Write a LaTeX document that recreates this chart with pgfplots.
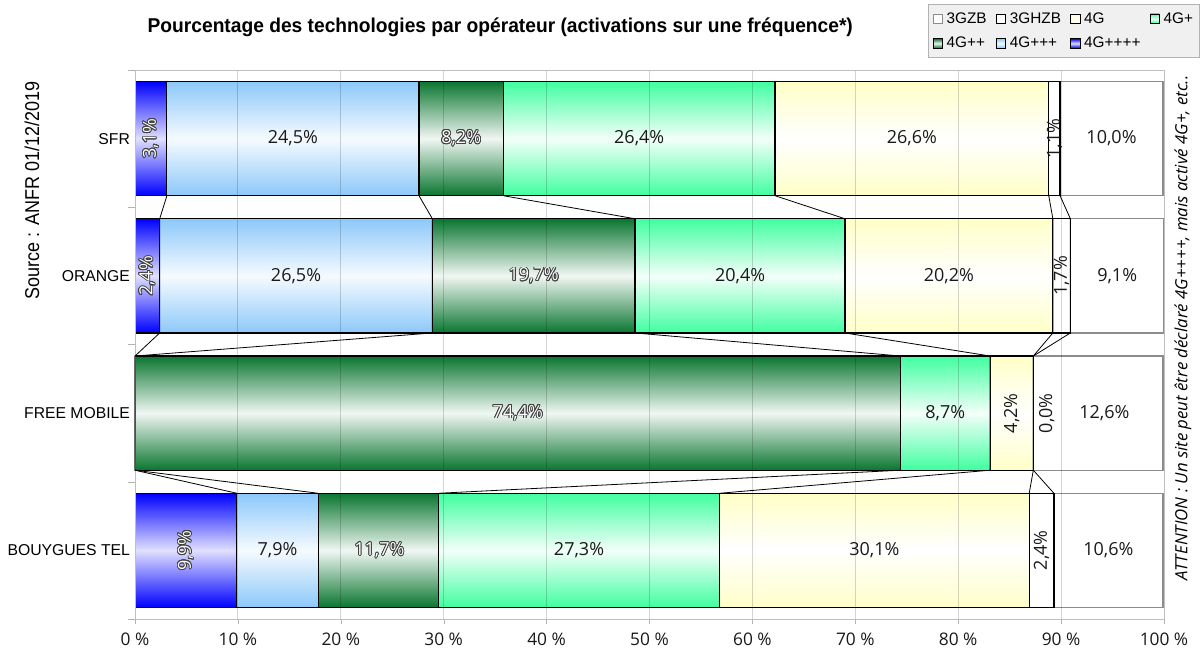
\documentclass[border=0pt]{standalone}
\usepackage{pgfplots}
\pgfplotsset{compat=1.18}
\usepackage{fontspec}
\usepackage{contour}
\setmainfont{Liberation Sans}
\newfontfamily\condfont{Liberation Sans}[FakeStretch=0.9]
\newfontfamily\titlefont{Liberation Sans}[FakeStretch=0.96]
\newfontfamily\lblfont{Open Sans}
\definecolor{cA}{RGB}{0,0,255}
\definecolor{cB}{RGB}{140,200,250}
\definecolor{cC}{RGB}{10,118,48}
\definecolor{cD}{RGB}{64,255,160}
\definecolor{cE}{RGB}{255,255,200}
\contourlength{0.045em}
\pgfplotsset{
  geom/.style={scale only axis, width=771.75pt, height=411.75pt,
    xmin=0, xmax=100, ymin=-0.5, ymax=3.5},
  baraxis/.style={geom, xbar stacked, bar width=0.832, hide axis},
  sA/.style={draw=black, line width=0.9pt, top color=cA, bottom color=cA, middle color=cA!12!white},
  sB/.style={draw=black, line width=0.9pt, top color=cB, bottom color=cB, middle color=cB!8!white},
  sC/.style={draw=black, line width=0.9pt, top color=cC, bottom color=cC, middle color=cC!6!white},
  sD/.style={draw=black, line width=0.9pt, top color=cD, bottom color=cD, middle color=cD!6!white},
  sE/.style={draw=black, line width=0.9pt, top color=cE, bottom color=cE, middle color=white},
  sF/.style={draw=black, line width=0.9pt, fill=white},
  sG/.style={draw=black!45, line width=0.9pt, fill=white},
}
\begin{document}
\begin{tikzpicture}
% ---- bars, one axis per operator so that each bar is shaded on its own
% SFR
\begin{axis}[baraxis]
\addplot[sA] coordinates {(3.1,3)};
\addplot[sB] coordinates {(24.5,3)};
\addplot[sC] coordinates {(8.2,3)};
\addplot[sD] coordinates {(26.4,3)};
\addplot[sE] coordinates {(26.6,3)};
\addplot[sF] coordinates {(1.1,3)};
\addplot[sG] coordinates {(10.0,3)};
\end{axis}
% ORANGE
\begin{axis}[baraxis]
\addplot[sA] coordinates {(2.4,2)};
\addplot[sB] coordinates {(26.5,2)};
\addplot[sC] coordinates {(19.7,2)};
\addplot[sD] coordinates {(20.4,2)};
\addplot[sE] coordinates {(20.2,2)};
\addplot[sF] coordinates {(1.7,2)};
\addplot[sG] coordinates {(9.1,2)};
\end{axis}
% FREE MOBILE (4G++++ 0, 4G+++ 0, 3GHZB 0.0)
\begin{axis}[baraxis]
\addplot[sC] coordinates {(74.4,1)};
\addplot[sD] coordinates {(8.7,1)};
\addplot[sE] coordinates {(4.2,1)};
\addplot[sG] coordinates {(12.6,1)};
\end{axis}
% BOUYGUES TEL
\begin{axis}[baraxis]
\addplot[sA] coordinates {(9.9,0)};
\addplot[sB] coordinates {(7.9,0)};
\addplot[sC] coordinates {(11.7,0)};
\addplot[sD] coordinates {(27.3,0)};
\addplot[sE] coordinates {(30.1,0)};
\addplot[sF] coordinates {(2.4,0)};
\addplot[sG] coordinates {(10.6,0)};
\end{axis}

% ---- frame, grid, legend, series lines and labels
\begin{axis}[
  geom,
  xtick={0,10,...,100},
  xticklabel={\pgfmathprintnumber{\tick}~\%},
  /pgf/number format/assume math mode=true,
  ytick={0,1,2,3},
  yticklabels={BOUYGUES TEL,FREE MOBILE,ORANGE,SFR},
  minor ytick={-0.5,0.5,1.5,2.5,3.5},
  major y tick style={draw=none},
  tick align=outside,
  xtick pos=lower, ytick pos=left,
  major tick length=4pt, minor tick length=5pt,
  axis line style={black!25},
  tick style={black!30},
  xmajorgrids, grid style={black, opacity=0.17, line width=0.6pt},
  xticklabel style={font=\lblfont\fontsize{13}{15}\selectfont, yshift=-3pt, text=black!90},
  yticklabel style={font=\fontsize{11.8}{13}\selectfont, xshift=3.75pt},
  clip=false,
  legend columns=4,
  legend style={at={(1,1)}, anchor=south east, xshift=27pt, yshift=9pt,
    fill=black!6, draw=black!30, font=\fontsize{11.5}{13}\selectfont,
    /tikz/every even column/.append style={column sep=5pt},
    /tikz/every odd column/.append style={column sep=1pt},
    row sep=5pt, inner xsep=3pt, inner ysep=4pt},
  legend cell align=left,
  legend image code/.code={\draw[#1, line width=0.4pt] (0pt,-3.5pt) rectangle (7pt,3.5pt);},
]
\addlegendimage{sG}\addlegendentry{3GZB}
\addlegendimage{sF}\addlegendentry{3GHZB}
\addlegendimage{sE}\addlegendentry{4G}
\addlegendimage{sD}\addlegendentry{4G+}
\addlegendimage{sC}\addlegendentry{4G++}
\addlegendimage{sB}\addlegendentry{4G+++}
\addlegendimage{sA}\addlegendentry{4G++++}

% series lines
\addplot[black, line width=0.6pt, forget plot] coordinates {(3.1,2.584) (2.4,2.416) (2.4,1.584) (0,1.416) (0,0.584) (9.9,0.416)};
\addplot[black, line width=0.6pt, forget plot] coordinates {(27.6,2.584) (28.9,2.416) (28.9,1.584) (0,1.416) (0,0.584) (17.8,0.416)};
\addplot[black, line width=0.6pt, forget plot] coordinates {(35.8,2.584) (48.6,2.416) (48.6,1.584) (74.4,1.416) (74.4,0.584) (29.5,0.416)};
\addplot[black, line width=0.6pt, forget plot] coordinates {(62.2,2.584) (69.0,2.416) (69.0,1.584) (83.1,1.416) (83.1,0.584) (56.8,0.416)};
\addplot[black, line width=0.6pt, forget plot] coordinates {(88.8,2.584) (89.2,2.416) (89.2,1.584) (87.3,1.416) (87.3,0.584) (86.9,0.416)};
\addplot[black, line width=0.6pt, forget plot] coordinates {(89.9,2.584) (90.9,2.416) (90.9,1.584) (87.3,1.416) (87.3,0.584) (89.3,0.416)};

% labels horizontal, plain
\addplot[draw=none, forget plot, point meta=explicit symbolic,
  nodes near coords={\pgfplotspointmeta\%},
  every node near coord/.append style={anchor=center, font=\lblfont\fontsize{13.5}{15}\selectfont, text=black!90}]
  table[meta=label] {
x y label
15.35 3 24,5
49.0 3 26,4
75.5 3 26,6
94.9 3 10,0
15.65 2 26,5
58.8 2 20,4
79.1 2 20,2
95.45 2 9,1
78.75 1 8,7
94.2 1 12,6
13.85 0 7,9
43.15 0 27,3
71.85 0 30,1
94.6 0 10,6
};
% labels horizontal, outlined
\addplot[draw=none, forget plot, point meta=explicit symbolic,
  nodes near coords={\contour{black!75}{\textcolor{white}{\pgfplotspointmeta\%}}},
  every node near coord/.append style={anchor=center, font=\lblfont\fontsize{13.5}{15}\selectfont}]
  table[meta=label] {
x y label
31.7 3 8,2
38.75 2 19,7
37.2 1 74,4
23.75 0 11,7
};
% labels rotated, plain
\addplot[draw=none, forget plot, point meta=explicit symbolic,
  nodes near coords={\pgfplotspointmeta\%},
  every node near coord/.append style={anchor=center, rotate=90, font=\lblfont\fontsize{13.5}{15}\selectfont, text=black!90}]
  table[meta=label] {
x y label
89.35 3 1,1
90.05 2 1,7
85.2 1 4,2
88.6 1 0,0
88.1 0 2,4
};
% labels rotated, outlined
\addplot[draw=none, forget plot, point meta=explicit symbolic,
  nodes near coords={\contour{black!75}{\textcolor{white}{\pgfplotspointmeta\%}}},
  every node near coord/.append style={anchor=center, rotate=90, font=\lblfont\fontsize{13.5}{15}\selectfont}]
  table[meta=label] {
x y label
1.55 3 3,1
1.2 2 2,4
4.95 0 9,9
};

\node[font=\titlefont\bfseries\fontsize{15}{17}\selectfont] at ([yshift=32.25pt]rel axis cs:0.355,1)
  {Pourcentage des technologies par opérateur (activations sur une fréquence*)};
\node[rotate=90, font=\condfont\fontsize{15}{18}\selectfont] at ([xshift=-77.25pt]rel axis cs:0,0.781)
  {Source : ANFR 01/12/2019};
\node[rotate=90, font=\lblfont\itshape\fontsize{12.6}{14}\selectfont] at ([xshift=14.25pt, yshift=-8pt]rel axis cs:1,0.549)
  {ATTENTION : Un site peut être déclaré 4G++++, mais activé 4G+, etc..};
\coordinate (tl) at ([xshift=-101.25pt, yshift=52.5pt]rel axis cs:0,1);
\coordinate (br) at ([xshift=27pt, yshift=-30pt]rel axis cs:1,0);
\end{axis}
\pgfresetboundingbox
\path[use as bounding box] (tl) rectangle (br);
\end{tikzpicture}
\end{document}
